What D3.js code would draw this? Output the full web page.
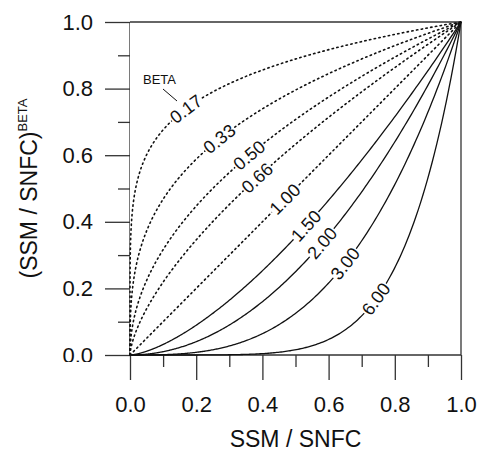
<!DOCTYPE html>
<html><head><meta charset="utf-8">
<script src="https://cdn.jsdelivr.net/npm/d3@7"></script>
<style>body{margin:0;background:#fff}svg{display:block}text{font-family:"Liberation Sans",Arial,sans-serif;fill:#111}</style>
</head><body><svg id="c" width="481" height="451"></svg>
<script>
// ---- data ----
const betas = [0.17, 0.33, 0.50, 0.66, 1.00, 1.50, 2.00, 3.00, 6.00];
const betaLabels = ["0.17", "0.33", "0.50", "0.66", "1.00", "1.50", "2.00", "3.00", "6.00"];
const majorTicks = [0.0, 0.2, 0.4, 0.6, 0.8, 1.0];
const majorTickLabels = ["0.0", "0.2", "0.4", "0.6", "0.8", "1.0"];
const minorTicks = [0.1, 0.3, 0.5, 0.7, 0.9];
const xTitle = "SSM / SNFC";
const yTitle = "(SSM / SNFC)";
const yTitleSup = "BETA";

// ---- layout / style ----
const labelAtX = [0.169, 0.27, 0.36, 0.384, 0.468, 0.532, 0.58, 0.65, 0.743];
const dotted = [true, true, true, true, true, false, false, false, false];

const svg = d3.select("#c");
const x = d3.scaleLinear().domain([0, 1]).range([130, 461]);
const y = d3.scaleLinear().domain([0, 1]).range([355, 22]);
const axisColor = "#333";

// frame (top and right)
svg.append("line").attr("x1", x(0)).attr("x2", x(1)).attr("y1", y(1)).attr("y2", y(1)).attr("stroke", axisColor).attr("stroke-width", 1.3);
svg.append("line").attr("x1", x(1)).attr("x2", x(1)).attr("y1", y(1)).attr("y2", y(0)).attr("stroke", axisColor).attr("stroke-width", 1.3);

// y axis
const yAxis = svg.append("g").attr("transform", `translate(${x(0)},0)`)
  .call(d3.axisLeft(y).tickValues(majorTicks).tickSize(25).tickPadding(12).tickFormat((d, i) => majorTickLabels[i]));
svg.append("g").attr("transform", `translate(${x(0)},0)`)
  .call(d3.axisLeft(y).tickValues(minorTicks).tickSize(12).tickFormat(""))
  .call(g => g.select(".domain").remove());
// x axis
const xAxis = svg.append("g").attr("transform", `translate(0,${y(0)})`)
  .call(d3.axisBottom(x).tickValues(majorTicks).tickSize(25).tickPadding(16).tickFormat((d, i) => majorTickLabels[i]));
svg.append("g").attr("transform", `translate(0,${y(0)})`)
  .call(d3.axisBottom(x).tickValues(minorTicks).tickSize(12).tickFormat(""))
  .call(g => g.select(".domain").remove());

svg.selectAll(".domain").attr("stroke", axisColor).attr("stroke-width", 1.3);
svg.selectAll(".tick line").attr("stroke", axisColor).attr("stroke-width", 1.3);
svg.selectAll(".tick text").attr("font-size", 22).attr("font-family", "Liberation Sans, Arial, sans-serif").attr("fill", "#111");
yAxis.select(".domain").attr("d", `M0,${y(1)}V${y(0)}`);
xAxis.select(".domain").attr("d", `M${x(0)},0H${x(1)}`);

// clip y-axis labels as in reference (0.0 label cut at the bottom)
svg.append("clipPath").attr("id", "yclip").append("rect").attr("x", -130).attr("y", 0).attr("width", 130).attr("height", 362);
yAxis.attr("clip-path", "url(#yclip)");

// curves
const ts = d3.range(0, 1.00001, 0.0025).map(t => Math.pow(t, 3));
const line = d3.line().x(d => x(d[0])).y(d => y(d[1]));
const curves = svg.append("g");
betas.forEach((b, i) => {
  const pts = ts.map(t => [t, Math.pow(t, b)]);
  curves.append("path").attr("d", line(pts)).attr("fill", "none")
    .attr("stroke", "#111").attr("stroke-width", dotted[i] ? 1.6 : 1.3)
    .attr("stroke-dasharray", dotted[i] ? "1.4,3.4" : null)
    .attr("stroke-linecap", dotted[i] ? "round" : "butt");
});

// curve labels
const labs = svg.append("g");
betas.forEach((b, i) => {
  const xv = labelAtX[i], yv = Math.pow(xv, b);
  const px = x(xv), py = y(yv);
  const dxp = x(1) - x(0), dyp = y(1) - y(0);
  const slope = b * Math.pow(xv, b - 1);
  const ang = Math.atan2(dyp * slope, dxp) * 180 / Math.PI;
  const g = labs.append("g").attr("transform", `translate(${px},${py}) rotate(${ang})`);
  const t = g.append("text").attr("text-anchor", "middle").attr("dy", "0.35em")
    .attr("font-size", 18).text(betaLabels[i]);
  const w = t.node().getComputedTextLength();
  g.insert("rect", "text").attr("x", -w / 2 - 1).attr("y", -7).attr("width", w + 2).attr("height", 14).attr("fill", "#fff");
});

// BETA annotation
svg.append("text").attr("x", 143).attr("y", 84).attr("font-size", 13).text("BETA");
svg.append("line").attr("x1", 163).attr("y1", 89).attr("x2", 177).attr("y2", 101).attr("stroke", "#111").attr("stroke-width", 1);

// titles
svg.append("text").attr("x", (x(0) + x(1)) / 2).attr("y", 447).attr("text-anchor", "middle").attr("font-size", 23).text(xTitle);
const yt = svg.append("text").attr("transform", `translate(37,${(y(0) + y(1)) / 2}) rotate(-90)`).attr("text-anchor", "middle").attr("font-size", 23);
yt.append("tspan").text(yTitle);
yt.append("tspan").attr("font-size", 13).attr("dy", -10).text(yTitleSup);
</script></body></html>
